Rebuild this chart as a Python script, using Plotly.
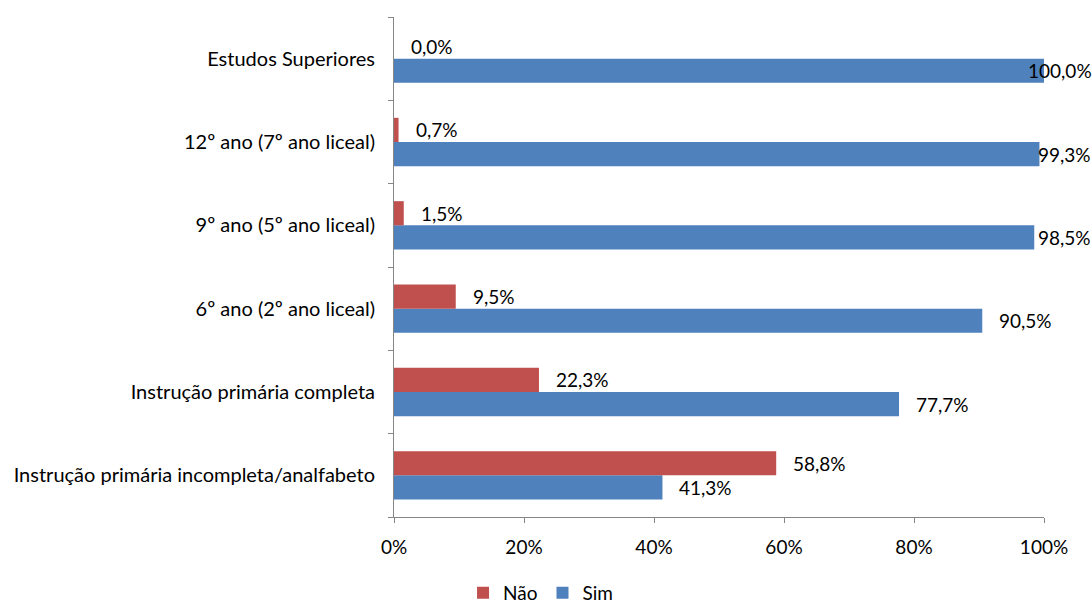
import plotly.graph_objects as go

# Education levels, bottom to top
categorias = [
    "Instrução primária incompleta/analfabeto",
    "Instrução primária completa",
    "6º ano (2º ano liceal)",
    "9º ano (5º ano liceal)",
    "12º ano (7º ano liceal)",
    "Estudos Superiores",
]
nao = [58.8, 22.3, 9.5, 1.5, 0.7, 0.0]
sim = [41.3, 77.7, 90.5, 98.5, 99.3, 100.0]

COR_NAO = "#C0504D"
COR_SIM = "#4F81BD"
FAMILIA = "Lato, 'Open Sans', sans-serif"
FONTE = dict(family=FAMILIA, size=19, color="#000000")
FONTE_CAT = dict(family=FAMILIA, size=20, color="#000000")

W, H = 1092, 604
M = dict(l=394, r=48, t=17, b=87)
BARGAP = 0.42
plot_w = W - M["l"] - M["r"]
plot_h = H - M["t"] - M["b"]
band = plot_h / len(categorias)
bar_h = band * (1 - BARGAP) / 2


def fmt(v):
    return f"{v:.1f}%".replace(".", ",")


fig = go.Figure()
fig.add_trace(go.Bar(
    y=categorias, x=sim, orientation="h", name="Sim",
    marker=dict(color=COR_SIM, line=dict(width=0)),
    legendrank=2,
))
fig.add_trace(go.Bar(
    y=categorias, x=nao, orientation="h", name="Não",
    marker=dict(color=COR_NAO, line=dict(width=0)),
    legendrank=1,
))

# Value labels to the right of each bar, kept inside the figure's right edge
right_limit = W - 6
for serie, shift_y in ((sim, -bar_h / 2), (nao, bar_h / 2)):
    for cat, v in zip(categorias, serie):
        px_end = M["l"] + v / 100 * plot_w
        txt = fmt(v)
        est_w = len(txt) * 10.0
        left = min(px_end + 15, right_limit - est_w)
        fig.add_annotation(
            x=v, y=cat, xref="x", yref="y", text=txt, showarrow=False,
            xanchor="left", yanchor="middle",
            xshift=left - px_end, yshift=shift_y,
            font=FONTE,
        )

fig.update_layout(
    width=W, height=H, margin=M,
    paper_bgcolor="white", plot_bgcolor="white",
    barmode="group", bargap=BARGAP, bargroupgap=0,
    font=FONTE,
    legend=dict(orientation="h", x=0.495, xanchor="center",
                xref="container", yref="container",
                y=0.05, yanchor="top", font=FONTE,
                itemwidth=30, traceorder="normal"),
    showlegend=True,
)
fig.update_xaxes(
    range=[0, 100], tickvals=[0, 20, 40, 60, 80, 100],
    ticktext=["0%", "20%", "40%", "60%", "80%", "100%"],
    showgrid=False, zeroline=False, showline=True,
    linecolor="#868686", linewidth=1,
    ticks="outside", ticklen=5, tickcolor="#868686",
    ticklabelstandoff=8, tickfont=FONTE, automargin=False,
)
fig.update_yaxes(
    type="category", categoryorder="array", categoryarray=categorias,
    showgrid=False, showline=True, linecolor="#868686", linewidth=1,
    ticks="outside", ticklen=5, tickcolor="#868686", tickson="boundaries",
    ticklabelstandoff=14, tickfont=FONTE_CAT, automargin=False,
)

fig.write_html("out.html")
